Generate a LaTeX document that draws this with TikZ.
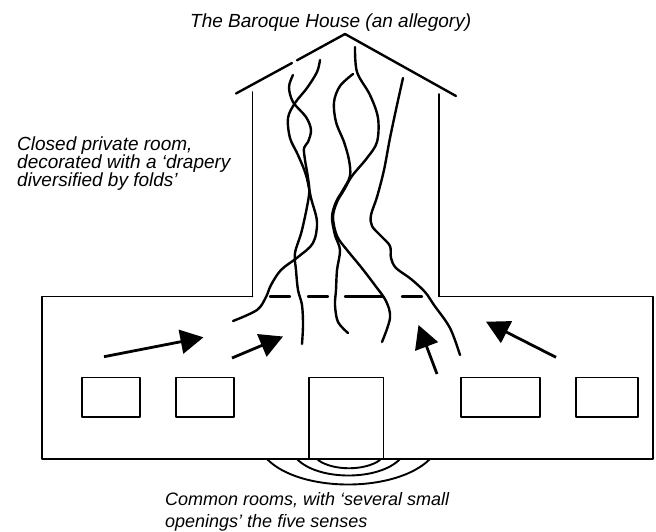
\documentclass[tikz,border=0pt]{standalone}
\usepackage{fontspec}
\setmainfont{Liberation Sans}
\usetikzlibrary{arrows.meta}
\begin{document}
\begin{tikzpicture}[x=1pt,y=-1pt,
  outline/.style={line width=1.9pt, line cap=round, line join=round},
  strand/.style={line width=2.4pt, line cap=round, line join=round},
  arrowline/.style={line width=2.8pt, -{Triangle[length=23pt,width=24pt]}},
  lbl/.style={font=\itshape\fontsize{19}{19}\selectfont, inner sep=0pt, anchor=base west},
  lblsmall/.style={font=\itshape\fontsize{18}{18}\selectfont, inner sep=0pt, anchor=base west}]
\useasboundingbox (0,0) rectangle (656,531);
% roof
\coordinate (peak) at (345,34);
\coordinate (roofL) at (236,93.5);
\coordinate (gapA) at (292,63);
\coordinate (gapB) at (297,60.3);
\coordinate (roofR) at (456,96);
\draw[outline, line width=2.4pt] (roofL) -- (gapA);
\draw[outline, line width=2.4pt] (gapB) -- (peak) -- (roofR);
% tower walls
\draw[outline] (252.5,92) -- (252.5,296.5);
\draw[outline] (439,94) -- (439,296.5);
% lower block
\draw[outline] (252.5,296.5) -- (42,296.5) -- (42,459) -- (653,459) -- (653,296.5) -- (439,296.5);
% dashed boundary
\foreach \a/\b in {270/290, 308/328, 345/383, 402/422}
  \draw[outline, line width=2.3pt] (\a,296.5) -- (\b,296.5);
% windows and door
\draw[outline] (82,377.5) rectangle (140,417);
\draw[outline] (176,377.5) rectangle (234,417);
\draw[outline] (309,459) -- (309,377.5) -- (383.5,377.5) -- (383.5,459);
\draw[outline] (461,377.5) rectangle (540,417);
\draw[outline] (576,377.5) rectangle (638,417);
% arcs under door
\draw[outline] (267,459) .. controls (300,493) and (396,493) .. (430,459);
\draw[outline] (297,459) .. controls (318,481) and (379,481) .. (400,459);
\draw[outline] (318,460) .. controls (333,471) and (365,471) .. (380,460);
% folds (strands)
\draw[strand] plot[smooth, tension=0.55] coordinates {(320,60) (317,72) (307,88) (295,103) (288,118) (290,138) (298,155) (306,175) (311,198) (317,222) (313,243) (298,257) (281,270) (271,285) (266,297) (257,310) (233,321)};
\draw[strand] plot[smooth, tension=0.55] coordinates {(293,75) (289,87) (293,102) (306,117) (311,130) (308,142) (304,148) (305,160) (308,178) (309,195) (302,230) (295,253) (296,270) (298,290) (302,305) (303,325) (302,344)};
\draw[strand] plot[smooth, tension=0.55] coordinates {(353,74) (340,86) (334,102) (336,122) (344,142) (349,160) (350,176) (343,190) (336,202) (332,217) (335,235) (340,250) (337,270) (336,290) (335,305) (338,322) (348,333)};
\draw[strand] plot[smooth, tension=0.55] coordinates {(355,47) (357,72) (370,95) (378,118) (377,142) (367,158) (352,176) (344,190) (337,202) (333,217) (337,236) (347,250) (361,267) (374,284) (386,301) (390,318) (382,342)};
\draw[strand] plot[smooth, tension=0.55] coordinates {(403,78) (397,105) (390,138) (384,170) (377,197) (371,215) (372,226) (381,236) (390,246) (391,258) (396,268) (411,279) (425,292) (434,305) (450,328) (460,355)};
% arrows
\coordinate (a1s) at (104,356.7); \coordinate (a1e) at (203.5,337.3);
\coordinate (a2s) at (232,358);   \coordinate (a2e) at (283,336.5);
\coordinate (a3s) at (437,374);   \coordinate (a3e) at (418.5,325);
\coordinate (a4s) at (556,357.3); \coordinate (a4e) at (486,321.7);
\draw[arrowline] (a1s) -- (a1e);
\draw[arrowline] (a2s) -- (a2e);
\draw[arrowline] (a3s) -- (a3e);
\draw[arrowline] (a4s) -- (a4e);
% labels
\node[lbl] (title) at (190,27) {The Baroque House (an allegory)};
\node[lbl] (priv1) at (17,150) {Closed private room,};
\node[lbl] (priv2) at (17,168) {decorated with a ‘drapery};
\node[lbl] (priv3) at (17,186) {diversified by folds’};
\node[lblsmall] (comm1) at (165,505) {Common rooms, with ‘several small};
\node[lblsmall] (comm2) at (165,527) {openings’ the five senses};
\end{tikzpicture}
\end{document}
